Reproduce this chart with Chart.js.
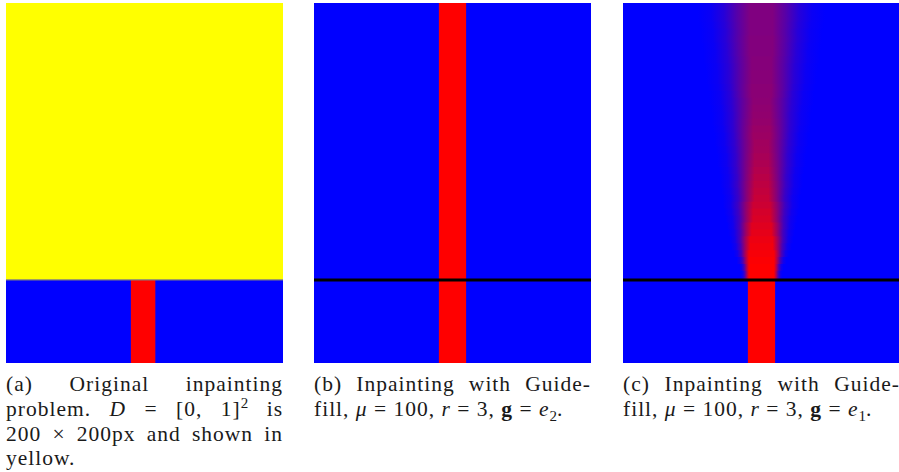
<!DOCTYPE html>
<html>
<head>
<meta charset="utf-8">
<script src="https://cdn.jsdelivr.net/npm/chart.js@4.4.1/dist/chart.umd.min.js"></script>
<style>
  body { margin: 0; background: #fff; width: 899px; height: 472px; overflow: hidden; position: relative; font-family: "Liberation Serif", serif; }
  .panel { position: absolute; top: 3px; width: 277px; height: 360px; }
  .cap { position: absolute; top: 372px; width: 277px; font-size: 21.5px; letter-spacing: 1px; line-height: 24.8px; color: #1a1a1a; }
  .cap div { text-align: justify; text-align-last: justify; }
  .cap div.last { text-align-last: left; }
  .cap sup, .cap sub { font-size: 0.7em; line-height: 0; letter-spacing: 0; }
</style>
</head>
<body>
<canvas id="panel-a" class="panel" width="277" height="360" style="left:6px"></canvas>
<canvas id="panel-b" class="panel" width="277" height="360" style="left:314px"></canvas>
<canvas id="panel-c" class="panel" width="277" height="360" style="left:623px"></canvas>

<div class="cap" style="left:6px">
  <div>(a) Original inpainting</div>
  <div>problem. <i>D</i> = [0, 1]<sup>2</sup> is</div>
  <div>200 × 200px and shown in</div>
  <div class="last">yellow.</div>
</div>
<div class="cap" style="left:314px">
  <div>(b) Inpainting with Guide-</div>
  <div class="last">fill, <i>μ</i> = 100, <i>r</i> = 3, <b>g</b> = <i>e</i><sub>2</sub>.</div>
</div>
<div class="cap" style="left:623px">
  <div>(c) Inpainting with Guide-</div>
  <div class="last">fill, <i>μ</i> = 100, <i>r</i> = 3, <b>g</b> = <i>e</i><sub>1</sub>.</div>
</div>

<script>
// Dominio en px de la imagen (D = 200x200) y franja conocida debajo
const domainX = [0, 200];
const domainY = [0, 200];
const stripY = [-60, 0];

// Barra roja conocida
const barA = [90, 108];
const barB = [90, 110];
const barC = [90, 110];
const coneCenter = 100;

// Panel (c): perfil por franja horizontal (altura sobre la línea, cada 5 px)
const bandBase = [0, 5, 10, 15, 20, 25, 30, 35, 40, 45, 50, 55, 60, 65, 70, 75, 80, 85, 90, 95,
                  100, 105, 110, 115, 120, 125, 130, 135, 140, 145, 150, 155, 160, 165, 170, 175, 180, 185, 190, 195];
const bandRed = [1.00, 1.00, 0.99, 0.97, 0.95, 0.93, 0.90, 0.88, 0.85, 0.83, 0.80, 0.78, 0.76, 0.74, 0.72, 0.70, 0.68, 0.66, 0.64, 0.63,
                 0.61, 0.60, 0.58, 0.57, 0.56, 0.55, 0.54, 0.54, 0.53, 0.53, 0.52, 0.52, 0.51, 0.51, 0.51, 0.50, 0.50, 0.50, 0.50, 0.50];
const bandCore = [9, 9, 9, 9, 8, 8, 7, 7, 6, 6, 6, 5, 5, 5, 5, 5, 5, 5, 5, 5,
                  6, 6, 6, 6, 6, 6, 7, 7, 7, 7, 7, 7, 8, 8, 8, 8, 8, 8, 8, 8];
const bandSpread = [15, 16, 18, 20, 22, 23, 24, 25, 26, 27, 28, 28, 29, 30, 30, 31, 32, 32, 33, 34,
                    34, 35, 36, 36, 37, 38, 38, 39, 40, 40, 41, 42, 42, 43, 44, 44, 45, 46, 46, 47];

const BLUE = '#0000ff';
const RED = '#ff0000';
const YELLOW = '#ffff00';

function mix(c) {
    return `rgb(${Math.round(255 * c)},0,${Math.round(255 * (1 - c))})`;
}

// rectángulo como línea superior rellenada hasta y0
function rect(x, y0, y1, color, order) {
    return {
        data: [{ x: x[0], y: y1 }, { x: x[1], y: y1 }],
        fill: { value: y0 },
        backgroundColor: color,
        borderColor: 'transparent',
        borderWidth: 0,
        pointRadius: 0,
        order: order
    };
}

function hline(y, color, width, order) {
    return {
        data: [{ x: domainX[0], y: y }, { x: domainX[1], y: y }],
        fill: false,
        borderColor: color,
        borderWidth: width,
        pointRadius: 0,
        order: order
    };
}

function makeChart(id, datasets) {
    return new Chart(document.getElementById(id), {
        type: 'line',
        data: { datasets },
        options: {
            responsive: false,
            animation: false,
            devicePixelRatio: 1,
            layout: { padding: 0 },
            plugins: { legend: { display: false }, tooltip: { enabled: false } },
            scales: {
                x: { type: 'linear', min: domainX[0], max: domainX[1], display: false },
                y: { type: 'linear', min: stripY[0], max: domainY[1], display: false }
            }
        }
    });
}

// (a) problema original
makeChart('panel-a', [
    rect(domainX, domainY[0], domainY[1], YELLOW, 10),
    rect(domainX, stripY[0], stripY[1], BLUE, 10),
    rect(barA, stripY[0], stripY[1], RED, 5),
    hline(0, '#80807f', 1.2, 0)
]);

// (b) g = e2
makeChart('panel-b', [
    rect(domainX, stripY[0], domainY[1], BLUE, 10),
    rect(barB, stripY[0], domainY[1], RED, 5),
    hline(0, '#000', 3, 0)
]);

// (c) g = e1: franjas con degradado horizontal (se solapan un poco para no dejar costuras)
const ramp = [0, 0.08, 0.3, 0.68, 1];
const coneBands = bandBase.map((h, i) => {
    const top = i + 1 < bandBase.length ? bandBase[i + 1] + 1.5 : domainY[1];
    const c = bandRed[i], p = bandCore[i], w = bandSpread[i];
    const ds = rect(domainX, h, top, mix(c), 5 + i);
    ds.backgroundColor = (ctx) => {
        const chart = ctx.chart;
        const xs = chart.scales.x;
        if (!xs || !chart.chartArea) return mix(c);
        const g = chart.ctx.createLinearGradient(xs.getPixelForValue(coneCenter - w), 0, xs.getPixelForValue(coneCenter + w), 0);
        const a = (w - p) / (2 * w);
        ramp.forEach((r, k) => {
            const t = k / (ramp.length - 1);
            g.addColorStop(a * t, mix(c * r));
            g.addColorStop(1 - a * t, mix(c * r));
        });
        return g;
    };
    return ds;
});

makeChart('panel-c', [
    rect(domainX, stripY[0], domainY[1], BLUE, 100),
    rect(barC, stripY[0], stripY[1], RED, 4),
    ...coneBands,
    hline(0, '#000', 3, 0)
]);
</script>
</body>
</html>
